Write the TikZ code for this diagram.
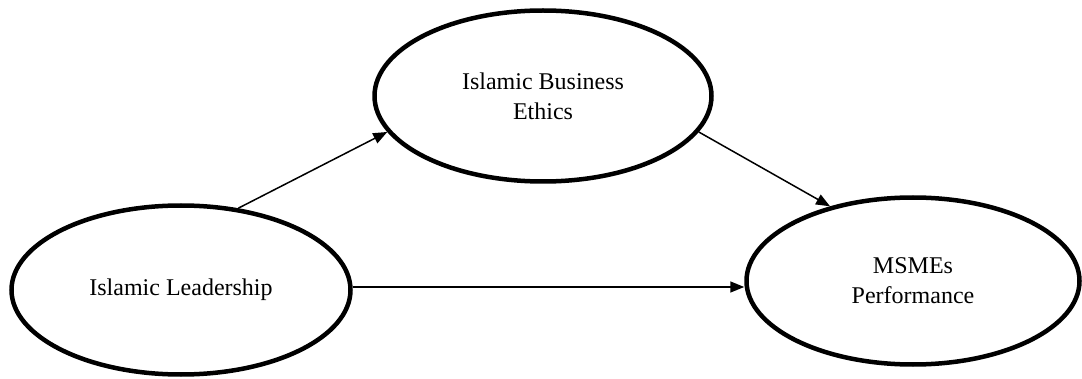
\documentclass[tikz,border=0pt]{standalone}
\usepackage{fontspec}
\setmainfont{Liberation Serif}
\usetikzlibrary{shapes.geometric,arrows.meta}
\begin{document}
\begin{tikzpicture}[x=1pt,y=1pt,
  construct/.style={ellipse,draw,line width=4.5pt,align=center,inner sep=0pt,
    font=\fontsize{24}{30}\selectfont},
  link/.style={line width=1.5pt,-{Triangle[length=14pt,width=11pt]}}]
\useasboundingbox (0,0) rectangle (1082,378);
\node[construct,minimum width=339pt,minimum height=169pt] (il) at (181,88) {Islamic Leadership};
\node[construct,minimum width=337pt,minimum height=171pt] (ibe) at (543,282) {Islamic Business\\Ethics};
\node[construct,minimum width=333pt,minimum height=167pt] (msme) at (913,97) {MSMEs\\Performance};
\draw[link] (il.55) -- (ibe.193);
\draw[link] (ibe.347) -- (msme.138.5);
\draw[link] ([yshift=3pt]il.east) -- ([yshift=3pt]il.east -| msme.west);
\end{tikzpicture}
\end{document}
